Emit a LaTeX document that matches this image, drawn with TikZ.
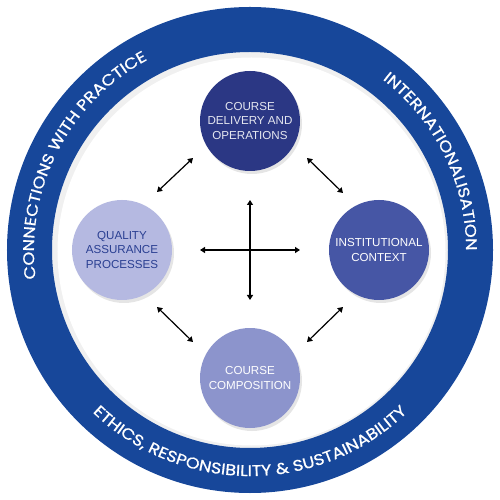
\documentclass[tikz,border=0pt]{standalone}
\usepackage{fontspec}
\setmainfont{Liberation Sans}
\newfontfamily\ringfont[FakeStretch=1.14, FakeBold=0.8]{Poppins}
\usetikzlibrary{positioning}
\usetikzlibrary{arrows.meta}
\usetikzlibrary{shadows}
\usetikzlibrary{decorations.text}
\definecolor{BLUE}{HTML}{17479A}
\definecolor{NAVY}{HTML}{2B3784}
\definecolor{BLUE_M}{HTML}{4656A5}
\definecolor{LAVENDER}{HTML}{8C94CC}
\definecolor{LAVENDER_A}{HTML}{B5B9E1}
\definecolor{BLUE_T}{HTML}{2A3F92}
\tikzset{
	topic/.style = {circle, minimum size=100pt, inner sep=0pt, align=center,
		font=\fontsize{11.6}{14.5}\selectfont,
		drop shadow={opacity=.2, shadow xshift=2pt, shadow yshift=-3pt}},
	link/.style = {{Triangle[length=5pt,width=6pt]}-{Triangle[length=5pt,width=6pt]}, line width=1.2pt},
	ringtext/.style = {decorate, decoration={text along path, text align=center,
		text color=white, text={|\ringfont\fontsize{15.5}{15.5}\selectfont|#1}}}
}
\begin{document}
\begin{tikzpicture}[x=1pt, y=1pt]
		\useasboundingbox (-250,-250) rectangle (250,250);
		% ring
		\fill[black!6] (0,0) circle (199);
		\fill[white] (1.5,-1.5) circle (194);
		\fill[BLUE, even odd rule] (0,0) circle (243) (0,0) circle (198);
		\path[ringtext={CONNECTIONS WITH PRACTICE}] (213:216) arc[start angle=213, end angle=93, radius=216];
		\path[ringtext={INTERNATIONALISATION}] (86:216) arc[start angle=86, end angle=-34, radius=216];
		\path[ringtext={ETHICS, RESPONSIBILITY {\&} SUSTAINABILITY}] (200:226) arc[start angle=200, end angle=340, radius=226];
		
		% topics
		\node[topic, fill=NAVY, text=white!88!NAVY] (delivery) at (0,129) {COURSE\\DELIVERY AND\\OPERATIONS};
		\node[topic, fill=LAVENDER_A, text=BLUE_T] (quality) at (-128,0) {QUALITY\\ASSURANCE\\PROCESSES};
		\node[topic, fill=BLUE_M, text=white] (context) at (129,0) {INSTITUTIONAL\\CONTEXT};
		\node[topic, fill=LAVENDER, text=white] (composition) at (0,-128) {COURSE\\COMPOSITION};
		
		% links between topics
		\coordinate (qd-a) at (-93,58);  \coordinate (qd-b) at (-57,92);
		\coordinate (dc-a) at (57,92);   \coordinate (dc-b) at (93,57);
		\coordinate (qc-a) at (-93,-57); \coordinate (qc-b) at (-57,-92);
		\coordinate (cc-a) at (93,-57);  \coordinate (cc-b) at (57,-92);
		\draw[link] (qd-a) -- (qd-b);
		\draw[link] (dc-a) -- (dc-b);
		\draw[link] (qc-a) -- (qc-b);
		\draw[link] (cc-a) -- (cc-b);
		
		% cross
		\coordinate (hub-n) at (0,50);
		\coordinate (hub-s) at (0,-50);
		\coordinate (hub-w) at (-50,0);
		\coordinate (hub-e) at (50,0);
		\draw[link] (hub-n) -- (hub-s);
		\draw[link] (hub-w) -- (hub-e);
\end{tikzpicture}
\end{document}
